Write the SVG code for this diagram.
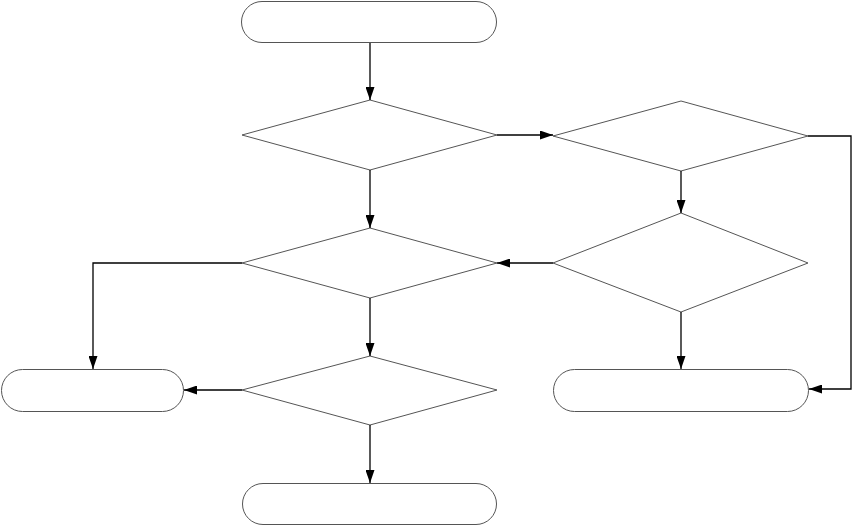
<svg xmlns="http://www.w3.org/2000/svg" width="852" height="526" viewBox="0 0 852 526">
<style>
.n{fill:#fff;stroke:#555;stroke-width:1}
.c{fill:none;stroke:#000;stroke-width:1.3;marker-end:url(#a)}
</style>
<defs>
<marker id="a" viewBox="0 0 13 9" refX="13" refY="4.5" markerWidth="13" markerHeight="9" markerUnits="userSpaceOnUse" orient="auto">
<path d="M0,0L13,4.5L0,9Z" fill="#000"/>
</marker>
</defs>
<rect width="852" height="526" fill="#fff"/>
<g id="start"><rect class="n" x="241.5" y="1.5" width="255" height="41" rx="20.5"/></g>
<g id="d1"><polygon class="n" points="370,100 497,135 370,170 242,135"/></g>
<g id="d2"><polygon class="n" points="681,101 808,136 681,171 553,136"/></g>
<g id="d3"><polygon class="n" points="681,213 808,263 681,312 553,263"/></g>
<g id="d4"><polygon class="n" points="370,228 497,263 370,298 242,263"/></g>
<g id="d5"><polygon class="n" points="370,356 497,390 370,425 242,390"/></g>
<g id="endLeft"><rect class="n" x="1.5" y="369.5" width="182" height="42" rx="21"/></g>
<g id="endRight"><rect class="n" x="553.5" y="369.5" width="255" height="42" rx="21"/></g>
<g id="endBottom"><rect class="n" x="242.5" y="483.5" width="254" height="41" rx="20.5"/></g>
<g id="connectors">
<path class="c" d="M370,43V100"/>
<path class="c" d="M497,135H553"/>
<path class="c" d="M808,136H851V389H809"/>
<path class="c" d="M681,171V213"/>
<path class="c" d="M553,263H497"/>
<path class="c" d="M370,170V228"/>
<path class="c" d="M242,263H93V369"/>
<path class="c" d="M370,298V356"/>
<path class="c" d="M242,390H184"/>
<path class="c" d="M370,425V483"/>
<path class="c" d="M681,312V369"/>
</g>
</svg>
